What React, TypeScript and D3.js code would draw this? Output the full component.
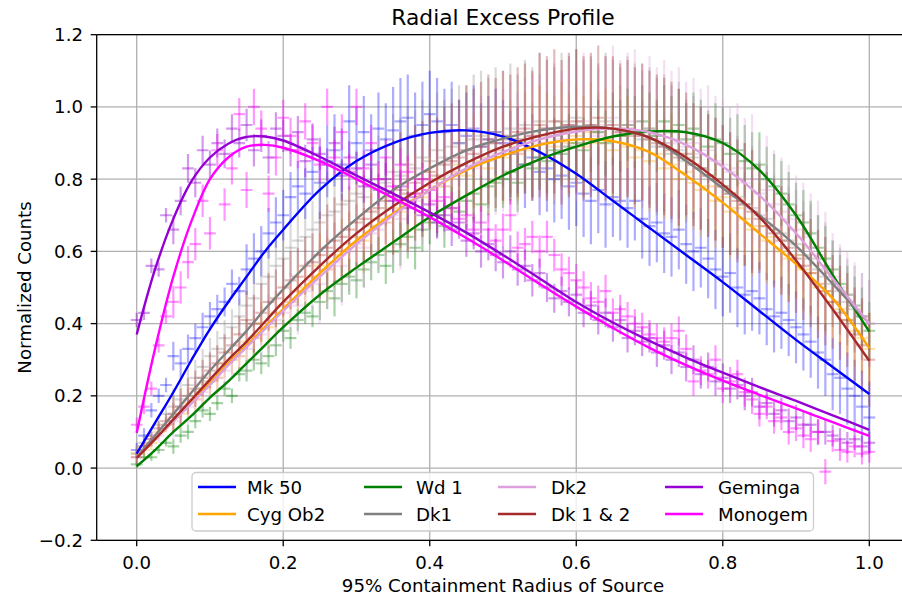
import React from 'react';
import * as d3 from 'd3';

const W = 902;
const H = 595;

const seriesNames = ['Mk 50', 'Cyg Ob2', 'Wd 1', 'Dk1', 'Dk2', 'Dk 1 & 2', 'Geminga', 'Monogem'];
const seriesColors = ['#0000ff', '#ffa500', '#008000', '#808080', '#dda0dd', '#a52a2a', '#9400d3', '#ff00ff'];
const seriesBarAlpha = [0.32, 0.32, 0.35, 0.3, 0.35, 0.32, 0.4, 0.4];

const xTicks = [0, 0.2, 0.4, 0.6, 0.8, 1.0];
const yTicks = [-0.2, 0, 0.2, 0.4, 0.6, 0.8, 1.0, 1.2];

// radial bins (fraction of 95% containment radius)
const radiusBins = d3.range(0, 101).map((i) => i / 100);
const binHalfWidth = 0.008;

const mk50Points = [
  0.05, 0.09, 0.16, 0.20, 0.23, 0.31, 0.29, 0.33, 0.36, 0.39,
  0.42, 0.44, 0.46, 0.51, 0.49, 0.55, 0.58, 0.60, 0.65, 0.68,
  0.70, 0.75, 0.78, 0.76, 0.82, 0.79, 0.85, 0.88, 0.84, 0.96,
  0.90, 0.93, 0.88, 0.94, 0.91, 0.935, 0.96, 0.97, 0.92, 0.95,
  0.98, 0.96, 0.93, 0.95, 0.90, 0.92, 0.94, 0.89, 0.91, 0.93,
  0.90, 0.87, 0.88, 0.84, 0.86, 0.82, 0.83, 0.80, 0.81, 0.78,
  0.79, 0.76, 0.74, 0.77, 0.73, 0.75, 0.74, 0.72, 0.74, 0.69,
  0.67, 0.68, 0.65, 0.64, 0.66, 0.62, 0.60, 0.61, 0.58, 0.55,
  0.53, 0.54, 0.50, 0.48, 0.49, 0.47, 0.44, 0.42, 0.43, 0.41,
  0.39, 0.37, 0.35, 0.32, 0.30, 0.26, 0.25, 0.22, 0.20, 0.17, 0.14,
];
const cygOb2Points = [
  0.04, 0.05, 0.07, 0.10, 0.12, 0.14, 0.15, 0.18, 0.19, 0.22,
  0.24, 0.25, 0.29, 0.30, 0.31, 0.35, 0.36, 0.40, 0.39, 0.43,
  0.45, 0.46, 0.49, 0.50, 0.53, 0.56, 0.55, 0.59, 0.60, 0.62,
  0.64, 0.63, 0.67, 0.69, 0.68, 0.72, 0.71, 0.74, 0.76, 0.75,
  0.78, 0.80, 0.78, 0.82, 0.84, 0.81, 0.85, 0.86, 0.83, 0.88,
  0.86, 0.89, 0.87, 0.91, 0.88, 0.92, 0.90, 0.89, 0.93, 0.90,
  0.92, 0.89, 0.93, 0.90, 0.91, 0.88, 0.92, 0.89, 0.86, 0.88,
  0.85, 0.87, 0.83, 0.84, 0.80, 0.82, 0.79, 0.77, 0.78, 0.74,
  0.75, 0.71, 0.72, 0.69, 0.66, 0.67, 0.63, 0.64, 0.60, 0.58,
  0.59, 0.55, 0.54, 0.50, 0.49, 0.46, 0.44, 0.41, 0.38, 0.36, 0.33,
];
const wd1Points = [
  0.01, 0.03, 0.03, 0.05, 0.07, 0.06, 0.09, 0.10, 0.13, 0.16,
  0.15, 0.18, 0.22, 0.20, 0.26, 0.27, 0.30, 0.29, 0.31, 0.34,
  0.38, 0.36, 0.41, 0.43, 0.42, 0.46, 0.49, 0.47, 0.51, 0.53,
  0.52, 0.55, 0.57, 0.59, 0.56, 0.60, 0.62, 0.64, 0.61, 0.66,
  0.68, 0.70, 0.67, 0.72, 0.71, 0.74, 0.76, 0.73, 0.78, 0.79,
  0.80, 0.82, 0.79, 0.84, 0.83, 0.86, 0.85, 0.88, 0.87, 0.89,
  0.90, 0.88, 0.91, 0.93, 0.90, 0.94, 0.92, 0.95, 0.93, 0.96,
  0.94, 0.92, 0.96, 0.93, 0.95, 0.91, 0.94, 0.92, 0.89, 0.91,
  0.90, 0.87, 0.88, 0.85, 0.83, 0.84, 0.80, 0.78, 0.76, 0.73,
  0.70, 0.68, 0.65, 0.61, 0.58, 0.55, 0.51, 0.48, 0.45, 0.42, 0.38,
];
const dk1Points = [
  0.04, 0.07, 0.09, 0.12, 0.15, 0.17, 0.19, 0.23, 0.25, 0.28,
  0.31, 0.33, 0.36, 0.39, 0.42, 0.45, 0.47, 0.51, 0.53, 0.56,
  0.58, 0.61, 0.63, 0.64, 0.66, 0.68, 0.70, 0.71, 0.73, 0.74,
  0.76, 0.75, 0.78, 0.80, 0.79, 0.82, 0.81, 0.84, 0.83, 0.86,
  0.85, 0.88, 0.86, 0.89, 0.90, 0.88, 0.91, 0.92, 0.90, 0.93,
  0.92, 0.94, 0.91, 0.95, 0.93, 0.96, 0.94, 0.92, 0.96, 0.95,
  0.97, 0.94, 0.95, 0.93, 0.96, 0.94, 0.92, 0.95, 0.93, 0.91,
  0.92, 0.89, 0.90, 0.87, 0.88, 0.85, 0.86, 0.83, 0.81, 0.80,
  0.78, 0.76, 0.75, 0.73, 0.72, 0.70, 0.69, 0.66, 0.65, 0.63,
  0.62, 0.59, 0.58, 0.55, 0.53, 0.51, 0.49, 0.46, 0.44, 0.42, 0.40,
];
const dk2Points = [
  0.03, 0.06, 0.08, 0.09, 0.12, 0.13, 0.16, 0.17, 0.19, 0.21,
  0.24, 0.25, 0.27, 0.30, 0.31, 0.33, 0.36, 0.37, 0.40, 0.41,
  0.43, 0.46, 0.45, 0.49, 0.52, 0.51, 0.55, 0.57, 0.56, 0.60,
  0.62, 0.61, 0.65, 0.66, 0.68, 0.70, 0.69, 0.73, 0.74, 0.76,
  0.77, 0.79, 0.78, 0.81, 0.82, 0.84, 0.83, 0.86, 0.85, 0.87,
  0.88, 0.90, 0.87, 0.91, 0.92, 0.90, 0.94, 0.93, 0.91, 0.95,
  0.93, 0.96, 0.94, 0.92, 0.95, 0.97, 0.93, 0.95, 0.96, 0.92,
  0.94, 0.91, 0.93, 0.90, 0.91, 0.89, 0.90, 0.87, 0.88, 0.85,
  0.84, 0.82, 0.83, 0.79, 0.80, 0.76, 0.77, 0.73, 0.71, 0.69,
  0.66, 0.64, 0.61, 0.59, 0.56, 0.53, 0.50, 0.48, 0.45, 0.42, 0.40,
];
const dk12Points = [
  0.03, 0.06, 0.08, 0.11, 0.13, 0.15, 0.17, 0.20, 0.22, 0.25,
  0.27, 0.29, 0.32, 0.34, 0.37, 0.41, 0.40, 0.43, 0.46, 0.47,
  0.50, 0.52, 0.53, 0.56, 0.57, 0.59, 0.61, 0.63, 0.64, 0.66,
  0.68, 0.69, 0.71, 0.72, 0.74, 0.75, 0.77, 0.76, 0.79, 0.80,
  0.82, 0.81, 0.84, 0.85, 0.86, 0.88, 0.87, 0.89, 0.91, 0.90,
  0.92, 0.91, 0.93, 0.94, 0.92, 0.95, 0.94, 0.96, 0.93, 0.95,
  0.96, 0.94, 0.95, 0.97, 0.94, 0.95, 0.93, 0.94, 0.92, 0.93,
  0.91, 0.90, 0.89, 0.88, 0.86, 0.87, 0.84, 0.83, 0.81, 0.80,
  0.78, 0.76, 0.74, 0.73, 0.71, 0.69, 0.67, 0.65, 0.63, 0.61,
  0.58, 0.56, 0.54, 0.51, 0.49, 0.46, 0.43, 0.41, 0.37, 0.34, 0.30,
];
const gemingaPoints = [
  0.41, 0.43, 0.56, 0.55, 0.70, 0.66, 0.74, 0.83, 0.79, 0.88,
  0.84, 0.90, 0.87, 0.94, 0.90, 0.95, 0.88, 0.92, 0.86, 0.94,
  0.92, 0.88, 0.93, 0.85, 0.91, 0.87, 0.84, 0.90, 0.81, 0.86,
  0.83, 0.78, 0.84, 0.77, 0.80, 0.74, 0.78, 0.72, 0.75, 0.70,
  0.73, 0.68, 0.70, 0.66, 0.68, 0.63, 0.65, 0.60, 0.62, 0.59,
  0.57, 0.60, 0.55, 0.56, 0.52, 0.54, 0.50, 0.47, 0.49, 0.46,
  0.48, 0.43, 0.45, 0.41, 0.43, 0.39, 0.41, 0.36, 0.38, 0.35,
  0.36, 0.32, 0.34, 0.30, 0.32, 0.28, 0.30, 0.26, 0.28, 0.24,
  0.25, 0.22, 0.23, 0.20, 0.21, 0.17, 0.18, 0.15, 0.16, 0.13,
  0.14, 0.12, 0.12, 0.10, 0.10, 0.09, 0.08, 0.07, 0.08, 0.06, 0.07,
];
const monogemPoints = [
  0.12, 0.17, 0.22, 0.34, 0.42, 0.46, 0.50, 0.57, 0.62, 0.74,
  0.65, 0.88, 0.73, 0.83, 0.98, 0.77, 1.00, 0.94, 0.76, 0.86,
  0.97, 0.92, 0.88, 0.96, 0.90, 0.84, 1.00, 0.86, 0.93, 0.82,
  1.00, 0.83, 0.90, 0.80, 0.86, 0.78, 0.84, 0.82, 0.76, 0.80,
  0.77, 0.74, 0.75, 0.72, 0.69, 0.70, 0.66, 0.68, 0.66, 0.63,
  0.66, 0.70, 0.61, 0.62, 0.64, 0.60, 0.64, 0.59, 0.55, 0.54,
  0.52, 0.50, 0.47, 0.46, 0.49, 0.43, 0.44, 0.42, 0.40, 0.39,
  0.37, 0.36, 0.35, 0.36, 0.38, 0.33, 0.24, 0.27, 0.26, 0.30,
  0.22, 0.24, 0.26, 0.21, 0.19, 0.15, 0.17, 0.13, 0.14, 0.10,
  0.11, 0.09, 0.08, 0.10, -0.01, 0.075, 0.05, 0.045, 0.06, 0.04, 0.045,
];

// error sizes at radius 0.0, 0.1, ..., 1.0
const mk50Err = [0.02, 0.04, 0.07, 0.10, 0.12, 0.12, 0.12, 0.11, 0.11, 0.10, 0.10];
const cygOb2Err = [0.02, 0.04, 0.06, 0.09, 0.11, 0.13, 0.14, 0.14, 0.13, 0.12, 0.10];
const wd1Err = [0.01, 0.02, 0.03, 0.05, 0.06, 0.08, 0.09, 0.10, 0.10, 0.09, 0.08];
const dk1Err = [0.02, 0.05, 0.08, 0.12, 0.16, 0.18, 0.19, 0.19, 0.17, 0.15, 0.12];
const dk2Err = [0.02, 0.05, 0.08, 0.11, 0.14, 0.17, 0.19, 0.20, 0.18, 0.15, 0.12];
const dk12Err = [0.02, 0.05, 0.08, 0.12, 0.16, 0.18, 0.20, 0.19, 0.17, 0.15, 0.13];
const gemingaErr = [0.02, 0.04, 0.045, 0.045, 0.045, 0.045, 0.04, 0.04, 0.04, 0.035, 0.03];
const monogemErr = [0.02, 0.045, 0.05, 0.05, 0.045, 0.045, 0.045, 0.04, 0.04, 0.035, 0.03];

// fitted profiles
const fitX = [0, 0.025, 0.05, 0.075, 0.1, 0.125, 0.15, 0.175, 0.2, 0.25, 0.3, 0.35, 0.4, 0.45, 0.5, 0.55, 0.6, 0.65, 0.7, 0.75, 0.8, 0.85, 0.9, 0.95, 1.0];
const mk50Fit = [0.04, 0.125, 0.21, 0.30, 0.385, 0.46, 0.53, 0.60, 0.66, 0.77, 0.85, 0.90, 0.928, 0.935, 0.918, 0.875, 0.815, 0.74, 0.665, 0.59, 0.515, 0.435, 0.355, 0.28, 0.205];
const cygOb2Fit = [0.03, 0.08, 0.13, 0.185, 0.235, 0.29, 0.34, 0.39, 0.44, 0.54, 0.63, 0.705, 0.77, 0.825, 0.865, 0.895, 0.91, 0.905, 0.875, 0.81, 0.735, 0.65, 0.565, 0.47, 0.332];
const wd1Fit = [0.005, 0.05, 0.10, 0.145, 0.195, 0.24, 0.29, 0.34, 0.39, 0.48, 0.555, 0.625, 0.695, 0.755, 0.81, 0.855, 0.89, 0.918, 0.932, 0.93, 0.90, 0.825, 0.70, 0.535, 0.378];
const dk1Fit = [0.03, 0.09, 0.15, 0.21, 0.27, 0.325, 0.38, 0.44, 0.495, 0.60, 0.69, 0.77, 0.83, 0.88, 0.912, 0.935, 0.945, 0.94, 0.915, 0.85, 0.775, 0.70, 0.615, 0.51, 0.40];
const dk2Fit = [0.03, 0.08, 0.13, 0.18, 0.23, 0.285, 0.335, 0.385, 0.435, 0.53, 0.62, 0.70, 0.77, 0.83, 0.875, 0.91, 0.932, 0.94, 0.93, 0.895, 0.835, 0.755, 0.65, 0.525, 0.40];
const dk12Fit = [0.028, 0.08, 0.135, 0.19, 0.245, 0.30, 0.35, 0.405, 0.46, 0.56, 0.65, 0.725, 0.79, 0.845, 0.89, 0.92, 0.94, 0.94, 0.915, 0.86, 0.785, 0.695, 0.575, 0.44, 0.297];
const gemingaFit = [0.37, 0.55, 0.69, 0.795, 0.86, 0.898, 0.917, 0.918, 0.907, 0.862, 0.81, 0.76, 0.708, 0.652, 0.59, 0.525, 0.46, 0.403, 0.352, 0.306, 0.264, 0.224, 0.186, 0.146, 0.106];
const monogemFit = [0.097, 0.33, 0.53, 0.685, 0.80, 0.86, 0.89, 0.895, 0.887, 0.85, 0.80, 0.748, 0.695, 0.637, 0.575, 0.51, 0.447, 0.388, 0.333, 0.285, 0.242, 0.203, 0.165, 0.127, 0.089];

const pointsList = [mk50Points, cygOb2Points, wd1Points, dk1Points, dk2Points, dk12Points, gemingaPoints, monogemPoints];
const errList = [mk50Err, cygOb2Err, wd1Err, dk1Err, dk2Err, dk12Err, gemingaErr, monogemErr];
const fitList = [mk50Fit, cygOb2Fit, wd1Fit, dk1Fit, dk2Fit, dk12Fit, gemingaFit, monogemFit];

const FONT = 'DejaVu Sans, Liberation Sans, sans-serif';
const FS = 18.2;

export default function App() {
  const x = d3.scaleLinear().domain([-0.0546, 1.0546]).range([96.7, 909.3]);
  const y = d3.scaleLinear().domain([-0.2, 1.2]).range([540.3, 34.7]);
  const left = 96.7, right = 909.3, top = 34.7, bottom = 540.3;
  const fmt = d3.format('.1f');
  const line = d3
    .line<number>()
    .x((_, i) => x(fitX[i]))
    .y((d) => y(d))
    .curve(d3.curveCatmullRom.alpha(0.5));

  const legendCols = [
    { lx: 198, tx: 247 },
    { lx: 364, tx: 416 },
    { lx: 498, tx: 551 },
    { lx: 665, tx: 718 },
  ];
  const legendRows = [487, 514];

  return (
    <svg
      width={W}
      height={H}
      style={{ position: 'absolute', left: 0, top: 0, background: '#fff' }}
      fontFamily={FONT}
    >
      <rect x={0} y={0} width={W} height={H} fill="#fff" />
      <defs>
        <clipPath id="plotclip">
          <rect x={left} y={top} width={right - left} height={bottom - top} />
        </clipPath>
      </defs>
      {/* grid */}
      <g stroke="#b0b0b0" strokeWidth={1.3}>
        {xTicks.map((t) => (
          <line key={'gx' + t} x1={x(t)} x2={x(t)} y1={top} y2={bottom} />
        ))}
        {yTicks.map((t) => (
          <line key={'gy' + t} x1={left} x2={right} y1={y(t)} y2={y(t)} />
        ))}
      </g>
      {/* error bars */}
      <g clipPath="url(#plotclip)" strokeWidth={2.2} fill="none">
        {pointsList.map((pts, s) => (
          <g key={'eb' + s} stroke={seriesColors[s]} strokeOpacity={seriesBarAlpha[s]}>
            {pts.map((v, i) => {
              const r = radiusBins[i];
              const e = errList[s][Math.round(r * 10)];
              return (
                <g key={i}>
                  <line x1={x(r)} x2={x(r)} y1={y(v - e)} y2={y(v + e)} />
                  <line x1={x(r - binHalfWidth)} x2={x(r + binHalfWidth)} y1={y(v)} y2={y(v)} />
                </g>
              );
            })}
          </g>
        ))}
      </g>
      {/* fits */}
      <g clipPath="url(#plotclip)" fill="none" strokeWidth={2.4}>
        {fitList.map((f, s) => (
          <path key={'fit' + s} d={line(f) || ''} stroke={seriesColors[s]} />
        ))}
      </g>
      {/* spines */}
      <g stroke="#000" strokeWidth={1.3} fill="none">
        <line x1={left} x2={left} y1={top} y2={bottom} />
        <line x1={left} x2={right} y1={bottom} y2={bottom} />
        <line x1={left} x2={right} y1={top} y2={top} />
      </g>
      {/* ticks */}
      <g stroke="#000" strokeWidth={1.3}>
        {xTicks.map((t) => (
          <line key={'tx' + t} x1={x(t)} x2={x(t)} y1={bottom} y2={bottom + 6} />
        ))}
        {yTicks.map((t) => (
          <line key={'ty' + t} x1={left - 6} x2={left} y1={y(t)} y2={y(t)} />
        ))}
      </g>
      <g fontSize={FS} fill="#000">
        {xTicks.map((t) => (
          <text key={'lx' + t} x={x(t)} y={568.5} textAnchor="middle">
            {fmt(t)}
          </text>
        ))}
        {yTicks.map((t) => (
          <text key={'ly' + t} x={83} y={y(t)} dy="0.36em" textAnchor="end">
            {fmt(t)}
          </text>
        ))}
      </g>
      <text x={(left + right) / 2} y={592} textAnchor="middle" fontSize={FS}>
        95% Containment Radius of Source
      </text>
      <text transform={`translate(30.5, ${(top + bottom) / 2}) rotate(-90)`} textAnchor="middle" fontSize={FS}>
        Normalized Counts
      </text>
      <text x={(left + right) / 2} y={24.5} textAnchor="middle" fontSize={21.8}>
        Radial Excess Profile
      </text>
      {/* legend */}
      <g>
        <rect x={192} y={472.5} width={621.5} height={58.5} rx={4} fill="#fff" fillOpacity={0.8} stroke="#cccccc" strokeWidth={1.3} />
        {seriesNames.map((name, s) => {
          const col = legendCols[Math.floor(s / 2)];
          const ry = legendRows[s % 2];
          return (
            <g key={'lg' + s}>
              <line x1={col.lx} x2={col.lx + 38} y1={ry} y2={ry} stroke={seriesColors[s]} strokeWidth={2.4} />
              <text x={col.tx} y={ry} dy="0.36em" fontSize={FS}>
                {name}
              </text>
            </g>
          );
        })}
      </g>
    </svg>
  );
}
